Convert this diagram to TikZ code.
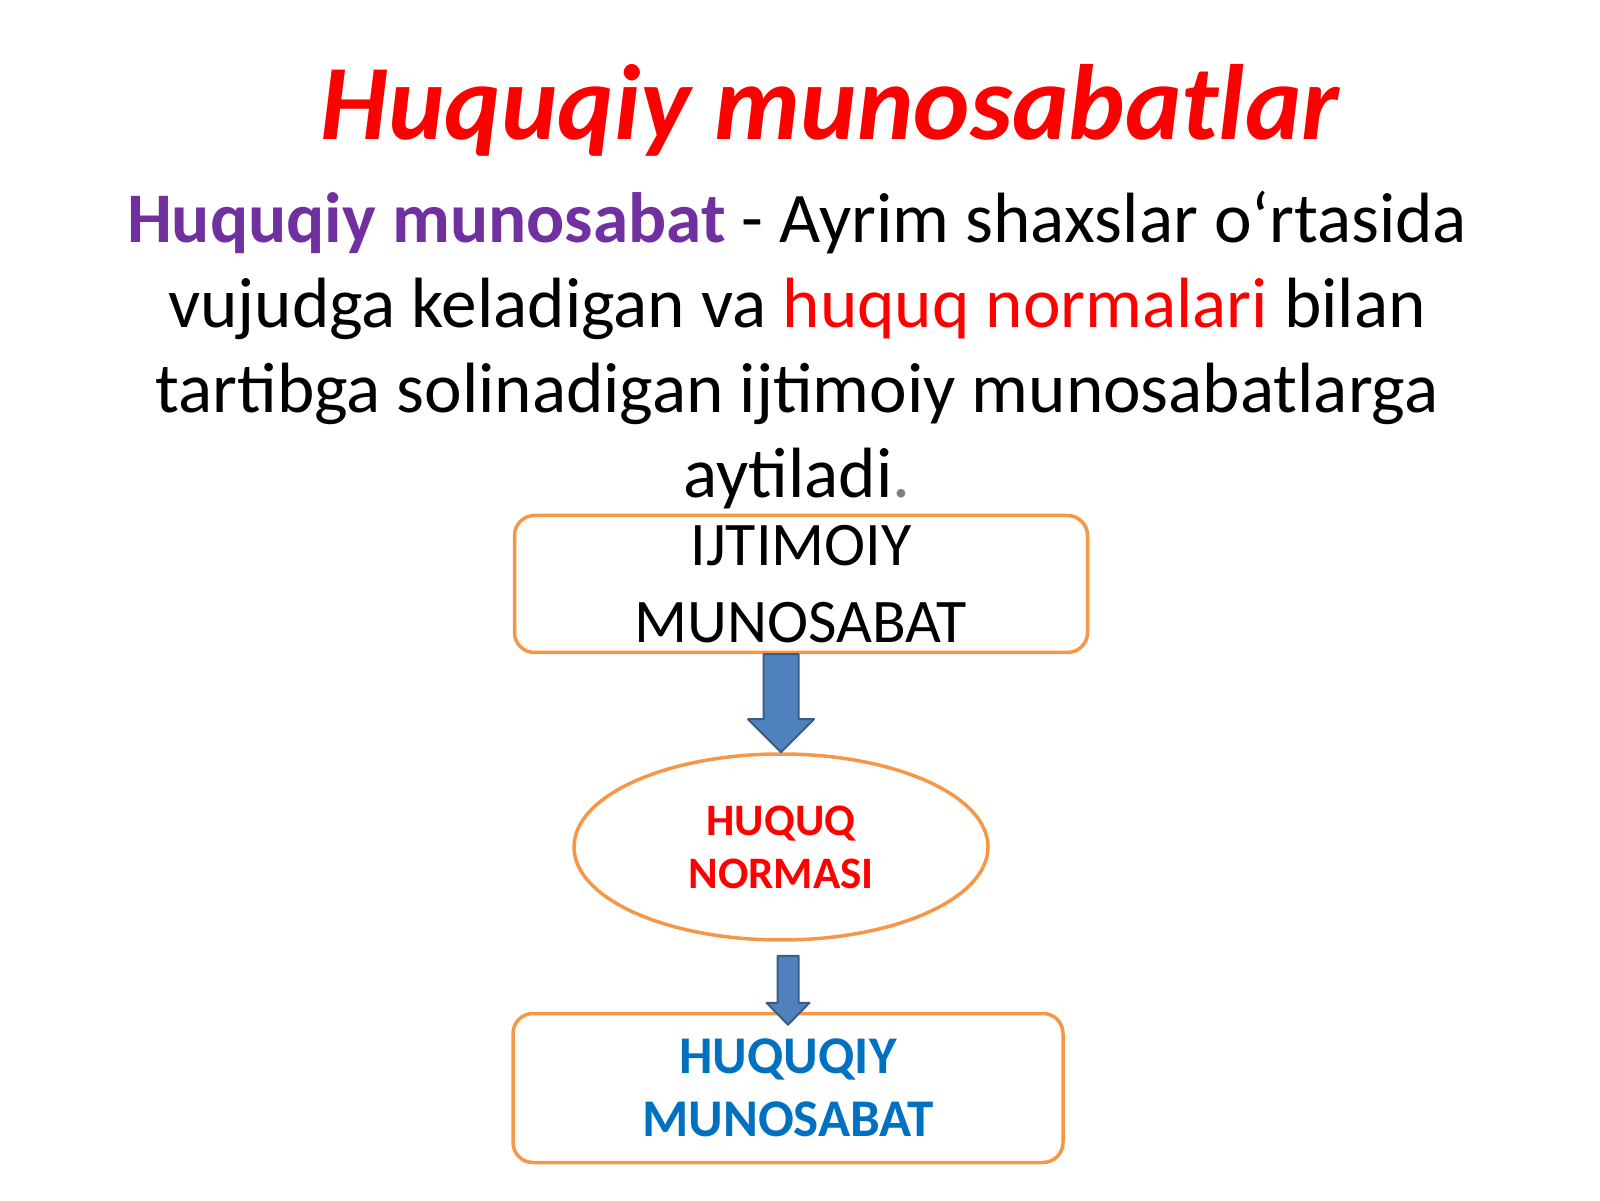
\documentclass[tikz,border=0pt]{standalone}
\usepackage{fontspec}
\setmainfont{Carlito}
\usepackage{tikz}
\usetikzlibrary{calc}
\usetikzlibrary{shapes.geometric}
\definecolor{titlered}{RGB}{255,0,0}
\definecolor{defpurple}{RGB}{112,48,160}
\definecolor{lineorange}{RGB}{247,150,70}
\definecolor{arrowfill}{RGB}{79,129,189}
\definecolor{arrowline}{RGB}{56,93,138}
\definecolor{textblue}{RGB}{0,112,192}
\definecolor{dotgray}{RGB}{128,128,128}
\tikzset{
  orangebox/.style={draw=lineorange,line width=3.5pt,rounded corners=20pt,inner sep=0pt,align=center},
  orangeoval/.style={draw=lineorange,line width=3.5pt,ellipse,inner sep=0pt,align=center},
  bluearrow/.style={fill=arrowfill,draw=arrowline,line width=2pt,line join=round},
  defline/.style={anchor=base,font=\fontsize{71.2}{80}\selectfont,inner sep=0pt}
}
% block arrow from #1 down to #2, shaft half width #3, head half width #4, head length #5
\newcommand{\blockarrow}[5]{%
  \draw[bluearrow] let \p1=(#1), \p2=(#2) in
    (\x2-#3,\y1) -- (\x2+#3,\y1) -- (\x2+#3,\y2+#5) -- (\x2+#4,\y2+#5)
    -- (\x2,\y2) -- (\x2-#4,\y2+#5) -- (\x2-#3,\y2+#5) -- cycle;}

\begin{document}
\begin{tikzpicture}[x=1pt,y=1pt]
\useasboundingbox (0,0) rectangle (1600,1200);
% title
\node[anchor=base,inner sep=0pt,text=titlered,font=\fontsize{107}{114}\selectfont\bfseries\itshape] (title) at (830,1060) {Huquqiy munosabatlar};
% definition
\node[defline] (def1) at (797,957) {{\color{defpurple}\bfseries Huquqiy munosabat} - Ayrim shaxslar o‘rtasida};
\node[defline] (def2) at (797,872) {vujudga keladigan va {\color{titlered}huquq normalari} bilan};
\node[defline] (def3) at (797,787) {tartibga solinadigan ijtimoiy munosabatlarga};
\node[defline] (def4) at (797,702) {aytiladi{\color{dotgray}.}};
% scheme
\node[orangebox,minimum width=573pt,minimum height=137pt,font=\fontsize{62}{77}\selectfont] (ijtimoiy) at (801,616) {IJTIMOIY\\MUNOSABAT};
\node[orangeoval,minimum width=414pt,minimum height=186pt,text=titlered,font=\fontsize{45}{53}\selectfont\bfseries] (norma) at (781,353) {HUQUQ\\NORMASI};
\node[orangebox,minimum width=550pt,minimum height=149pt,text=textblue,font=\fontsize{53}{63}\selectfont\bfseries] (huquqiy) at (788,112) {HUQUQIY\\MUNOSABAT};
\coordinate (arrtop) at ([yshift=-14pt]norma.south);
\coordinate (arrtip) at ([yshift=-13pt]huquqiy.north);
\blockarrow{ijtimoiy.south}{norma.north}{17.5pt}{33pt}{33pt}
\blockarrow{arrtop}{arrtip}{10.5pt}{21.5pt}{22pt}
\end{tikzpicture}
\end{document}
